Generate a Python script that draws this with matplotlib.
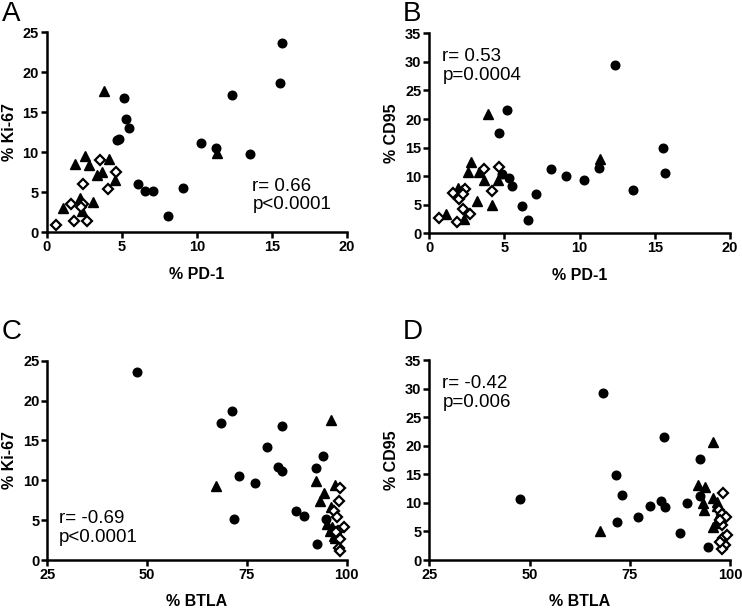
import matplotlib
matplotlib.use("Agg")
import matplotlib.pyplot as plt

plt.rcParams['font.family'] = ['Liberation Sans', 'DejaVu Sans']

# ---- Panel A: % Ki-67 vs % PD-1 ----
a_circ_x = [15.67, 15.56, 12.36, 5.16, 5.27, 5.47, 4.67, 4.80, 10.27, 11.29, 13.56, 6.11, 6.56, 7.11, 9.07, 8.11]
a_circ_y = [23.6, 18.7, 17.2, 16.8, 14.2, 13.0, 11.6, 11.7, 11.2, 10.6, 9.8, 6.1, 5.2, 5.2, 5.5, 2.0]
a_tri_x = [3.84, 2.57, 1.90, 2.83, 4.19, 3.68, 3.35, 4.57, 2.20, 1.12, 3.12, 2.35, 11.36]
a_tri_y = [17.7, 9.5, 8.5, 8.4, 9.2, 7.6, 7.2, 6.6, 4.3, 3.1, 3.8, 2.7, 9.9]
a_dia_x = [0.63, 1.83, 2.68, 1.61, 2.46, 2.30, 2.41, 4.12, 4.61, 3.57]
a_dia_y = [0.9, 1.4, 1.4, 3.5, 3.6, 3.2, 6.0, 5.4, 7.5, 9.0]

# ---- Panel B: % CD95 vs % PD-1 ----
b_circ_x = [12.37, 5.19, 4.63, 15.57, 15.68, 11.31, 8.12, 9.07, 10.29, 13.57, 4.81, 5.30, 5.52, 7.12, 6.16, 6.59]
b_circ_y = [29.5, 21.6, 17.6, 14.9, 10.6, 11.4, 11.2, 10.0, 9.3, 7.6, 10.4, 9.6, 8.2, 6.8, 4.8, 2.3]
b_tri_x = [3.88, 11.37, 2.77, 2.60, 3.28, 3.64, 4.55, 3.15, 4.17, 1.09, 2.30, 1.93, 2.20]
b_tri_y = [20.8, 12.95, 12.4, 10.8, 10.7, 9.3, 9.3, 5.7, 5.0, 3.4, 2.5, 7.9, 7.5]
b_dia_x = [0.67, 1.86, 2.70, 2.22, 2.00, 1.60, 2.40, 2.26, 4.15, 3.61, 4.61]
b_dia_y = [2.6, 2.0, 3.3, 4.3, 6.0, 7.1, 7.7, 6.9, 7.4, 11.2, 11.6]

# ---- Panel C: % Ki-67 vs % BTLA ----
c_circ_x = [47.5, 71.3, 68.4, 83.7, 80.0, 94.0, 82.75, 83.75, 92.25, 73.0, 77.1, 87.4, 89.25, 71.8, 94.7, 92.6]
c_circ_y = [23.6, 18.7, 17.2, 16.8, 14.2, 13.0, 11.7, 11.2, 11.6, 10.5, 9.7, 6.1, 5.5, 5.1, 5.1, 2.0]
c_tri_x = [67.3, 96.1, 92.4, 97.1, 94.2, 93.2, 96.1, 96.25, 95.7, 97.5, 96.8, 95.0, 97.0]
c_tri_y = [9.25, 17.6, 9.9, 9.4, 8.4, 7.4, 6.7, 4.1, 3.7, 3.5, 3.0, 4.5, 2.7]
c_dia_x = [98.2, 98.0, 96.9, 97.6, 99.25, 98.4, 98.0, 98.2, 97.9, 97.2]
c_dia_y = [9.0, 7.4, 6.2, 5.4, 4.1, 2.6, 1.5, 1.1, 3.6, 3.5]

# ---- Panel D: % CD95 vs % BTLA ----
d_circ_x = [47.7, 68.4, 83.6, 71.5, 92.4, 73.0, 80.0, 82.8, 83.8, 77.1, 71.8, 89.2, 87.5, 92.5, 94.6, 97.4]
d_circ_y = [10.6, 29.3, 21.6, 14.9, 17.6, 11.3, 9.5, 10.3, 9.2, 7.5, 6.65, 9.9, 4.8, 11.2, 2.3, 7.3]
d_tri_x = [67.6, 95.8, 92.1, 93.8, 93.3, 93.6, 95.8, 96.7, 96.7, 95.7, 97.0, 96.5, 97.3]
d_tri_y = [5.1, 20.7, 13.1, 12.8, 10.0, 8.8, 10.8, 10.2, 9.4, 5.8, 7.0, 6.5, 7.8]
d_dia_x = [98.3, 97.2, 98.0, 98.9, 98.0, 98.3, 98.8, 98.0, 97.6, 99.3, 97.5]
d_dia_y = [11.8, 8.8, 8.0, 7.6, 6.1, 3.8, 2.7, 2.0, 7.0, 4.4, 3.2]

panel_letters = ['A', 'B', 'C', 'D']
x_labels = ['% PD-1', '% PD-1', '% BTLA', '% BTLA']
y_labels = ['% Ki-67', '% CD95', '% Ki-67', '% CD95']
stats_text = ['r= 0.66\np<0.0001', 'r= 0.53\np=0.0004', 'r= -0.69\np<0.0001', 'r= -0.42\np=0.006']

fig = plt.figure(figsize=(7.42, 6.10), dpi=100)
W, H = 742, 610

def add_ax(x0, x1, ytop, ybot):
    return fig.add_axes([x0 / W, (H - ybot) / H, (x1 - x0) / W, (ybot - ytop) / H])

axA = add_ax(46.5, 347, 32.3, 232.3)
axB = add_ax(429.3, 730, 33.3, 233.3)
axC = add_ax(47.3, 346.7, 360.7, 560)
axD = add_ax(429.3, 730, 360, 560)

panels = [
    (axA, a_circ_x, a_circ_y, a_tri_x, a_tri_y, a_dia_x, a_dia_y, (0, 20), [0, 5, 10, 15, 20], (0, 25), [0, 5, 10, 15, 20, 25], (13.7, 4.6)),
    (axB, b_circ_x, b_circ_y, b_tri_x, b_tri_y, b_dia_x, b_dia_y, (0, 20), [0, 5, 10, 15, 20], (0, 35), [0, 5, 10, 15, 20, 25, 30, 35], (0.87, 29.3)),
    (axC, c_circ_x, c_circ_y, c_tri_x, c_tri_y, c_dia_x, c_dia_y, (25, 100), [25, 50, 75, 100], (0, 25), [0, 5, 10, 15, 20, 25], (28.0, 4.05)),
    (axD, d_circ_x, d_circ_y, d_tri_x, d_tri_y, d_dia_x, d_dia_y, (25, 100), [25, 50, 75, 100], (0, 35), [0, 5, 10, 15, 20, 25, 30, 35], (28.25, 29.3)),
]

for i, (ax, cx, cy, tx, ty, dx, dy, xlim, xt, ylim, yt, tpos) in enumerate(panels):
    ax.plot(cx, cy, linestyle='none', marker='o', markersize=6.2, color='black', clip_on=False, zorder=3)
    ax.plot(tx, ty, linestyle='none', marker='^', markersize=6.8, color='black', clip_on=False, zorder=3)
    ax.plot(dx, dy, linestyle='none', marker='D', markersize=4.8, markerfacecolor='white',
            markeredgecolor='black', markeredgewidth=1.6, clip_on=False, zorder=4)
    ax.set_xlim(*xlim)
    ax.set_ylim(*ylim)
    ax.set_xticks(xt)
    ax.set_yticks(yt)
    for s in ['top', 'right']:
        ax.spines[s].set_visible(False)
    for s in ['left', 'bottom']:
        ax.spines[s].set_linewidth(1.8)
    ax.tick_params(direction='out', length=4.5, width=1.8, labelsize=10.5, pad=1.2)
    for lab in ax.get_xticklabels() + ax.get_yticklabels():
        lab.set_fontweight('bold')
    ax.set_xlabel(x_labels[i], fontsize=11.5, fontweight='bold', labelpad=9)
    ax.set_ylabel(y_labels[i], fontsize=11.5, fontweight='bold', labelpad=4)
    ax.text(tpos[0], tpos[1], stats_text[i], fontsize=13.5, va='center', ha='left', linespacing=1.15)

fig.text(2 / W, 1 - 14 / H, 'A', fontsize=20, va='center', ha='left')
fig.text(403 / W, 1 - 14 / H, 'B', fontsize=20, va='center', ha='left')
fig.text(2 / W, 1 - 332 / H, 'C', fontsize=20, va='center', ha='left')
fig.text(403 / W, 1 - 332 / H, 'D', fontsize=20, va='center', ha='left')

fig.savefig('out.png', dpi=100)
